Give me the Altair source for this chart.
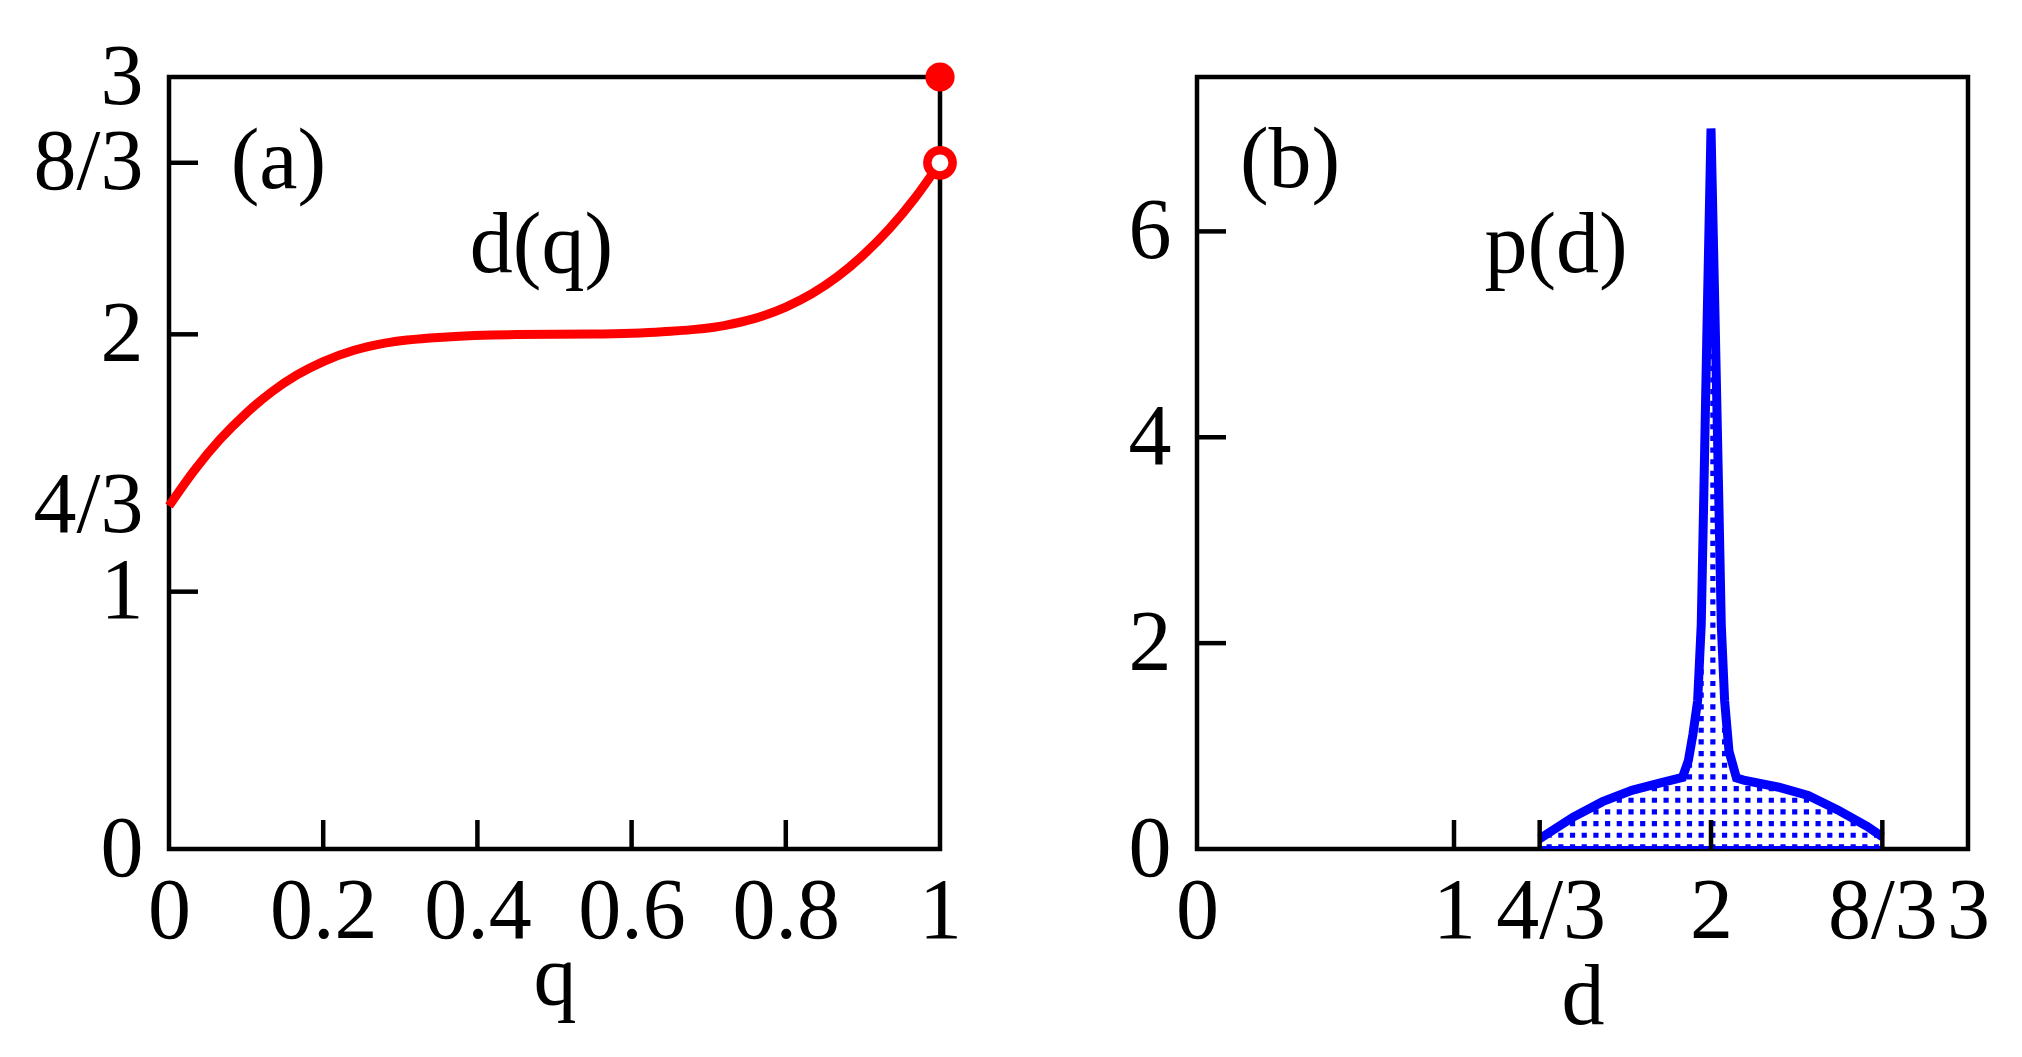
import altair as alt
import pandas as pd

FONT = "Liberation Serif"
FS = 86
RED = "#ff0000"
BLUE = "#0000ff"
W, H = 771, 772
LW = 4.5
TICK = 29
CW = 9

# ---------- panel (a): d(q) ----------
q_vals = [0, 0.033, 0.066, 0.1, 0.133, 0.166, 0.2, 0.24, 0.28, 0.36, 0.45,
          0.55, 0.64, 0.72, 0.76, 0.8, 0.834, 0.867, 0.9, 0.934, 0.967, 1.0]
dq_vals = [1.333, 1.472, 1.591, 1.693, 1.776, 1.842, 1.894, 1.938, 1.966, 1.99, 1.999,
           2.001, 2.01, 2.034, 2.062, 2.106, 2.158, 2.224, 2.307, 2.409, 2.528, 2.667]
dot_full_q, dot_full_d = [1.0], [3.0]
dot_open_q, dot_open_d = [1.0], [8 / 3]

a_xtick_vals = [0, 0.2, 0.4, 0.6, 0.8, 1]
a_xtick_labs = ["0", "0.2", "0.4", "0.6", "0.8", "1"]
a_ytick_vals = [0, 1, 4 / 3, 2, 8 / 3, 3]
a_ytick_labs = ["0", "1", "4/3", "2", "8/3", "3"]
a_xmarks = [0.2, 0.4, 0.6, 0.8]
a_ymarks = [1, 2, 8 / 3]

# ---------- panel (b): p(d) ----------
d_vals = [4 / 3, 1.464, 1.578, 1.692, 1.807, 1.889, 1.912, 1.93, 1.948, 1.962, 1.972,
          1.984, 2.0, 2.017, 2.03, 2.04, 2.053, 2.07, 2.099, 2.127, 2.264, 2.378,
          2.493, 2.607, 8 / 3]
p_vals = [0.1, 0.31, 0.46, 0.57, 0.644, 0.695, 0.86, 1.12, 1.44, 2.18, 3.44,
          5.02, 7.0, 5.02, 3.44, 2.18, 1.44, 0.95, 0.69, 0.67, 0.6, 0.52,
          0.38, 0.22, 0.12]

b_xtick_vals = [0, 1, 4 / 3, 2, 8 / 3, 3]
b_xtick_labs = ["0", "1", "4/3", "2", "8/3", "3"]
b_ytick_vals = [0, 2, 4, 6]
b_ytick_labs = ["0", "2", "4", "6"]
b_xmarks = [1, 4 / 3, 2, 8 / 3]
b_ymarks = [2, 4, 6]

# annotations
a_tag = pd.DataFrame({"x": [0.08], "y": [2.569], "t": ["(a)"]})
a_name = pd.DataFrame({"x": [0.483], "y": [2.242], "t": ["d(q)"]})
b_tag = pd.DataFrame({"x": [0.167], "y": [6.43], "t": ["(b)"]})
b_name = pd.DataFrame({"x": [1.397], "y": [5.61], "t": ["p(d)"]})


def lab_expr(vals, labs):
    parts = [f"abs(datum.value - {v!r}) < 1e-6 ? '{l}'" for v, l in zip(vals, labs)]
    return " : ".join(parts) + " : ''"


def x_axis(vals, labs, title, title_y, shift=None):
    kw = {}
    if shift is not None:
        kw["labelOffset"] = alt.condition(
            f"abs(datum.value - {shift[0]!r}) < 1e-6", alt.value(shift[1]), alt.value(0))
    return alt.Axis(values=vals, labelExpr=lab_expr(vals, labs), ticks=False, tickSize=0,
                    domain=False, grid=False, labelFont=FONT, labelFontSize=FS,
                    labelColor="black", labelPadding=88, labelBaseline="alphabetic",
                    labelFlush=False, labelOverlap=False, labelBound=False,
                    title=title, titleFont=FONT, titleFontSize=FS, titleFontWeight="normal",
                    titleColor="black", titleBaseline="alphabetic", titleY=title_y, **kw)


def y_axis(vals, labs):
    return alt.Axis(values=vals, labelExpr=lab_expr(vals, labs), ticks=False, tickSize=0,
                    domain=False, grid=False, labelFont=FONT, labelFontSize=FS,
                    labelColor="black", labelPadding=26, labelBaseline="middle",
                    labelFlush=False, labelOverlap=False, labelBound=False, title=None)


def text_layer(df, xs, ys, align):
    return alt.Chart(df).mark_text(font=FONT, fontSize=FS, baseline="alphabetic",
                                   align=align, color="black").encode(
        x=alt.X("x:Q", scale=xs), y=alt.Y("y:Q", scale=ys), text="t:N")


# ---------- build panel (a) ----------
xs_a = alt.Scale(domain=[0, 1], nice=False, zero=False)
ys_a = alt.Scale(domain=[0, 3], nice=False, zero=False)

df_a = pd.DataFrame({"q": q_vals, "d": dq_vals})
line_a = alt.Chart(df_a).mark_line(color=RED, strokeWidth=CW, strokeCap="butt",
                                   interpolate="monotone").encode(
    x=alt.X("q:Q", scale=xs_a, axis=x_axis(a_xtick_vals, a_xtick_labs, "q", 154)),
    y=alt.Y("d:Q", scale=ys_a, axis=y_axis(a_ytick_vals, a_ytick_labs)),
)
full_a = alt.Chart(pd.DataFrame({"q": dot_full_q, "d": dot_full_d})).mark_circle(
    size=855, color=RED, opacity=1).encode(
    x=alt.X("q:Q", scale=xs_a), y=alt.Y("d:Q", scale=ys_a))
open_a = alt.Chart(pd.DataFrame({"q": dot_open_q, "d": dot_open_d})).mark_point(
    shape="circle", size=640, filled=True, fill="white", stroke=RED, strokeWidth=8.5,
    opacity=1).encode(x=alt.X("q:Q", scale=xs_a), y=alt.Y("d:Q", scale=ys_a))
xt_a = alt.Chart(pd.DataFrame({"v": a_xmarks})).mark_rule(color="black", strokeWidth=LW).encode(
    x=alt.X("v:Q", scale=xs_a), y=alt.value(H), y2=alt.value(H - TICK))
yt_a = alt.Chart(pd.DataFrame({"v": a_ymarks})).mark_rule(color="black", strokeWidth=LW).encode(
    y=alt.Y("v:Q", scale=ys_a), x=alt.value(0), x2=alt.value(TICK))
panel_a = alt.layer(line_a, open_a, full_a, xt_a, yt_a,
                    text_layer(a_tag, xs_a, ys_a, "left"),
                    text_layer(a_name, xs_a, ys_a, "center")).properties(width=W, height=H)

# ---------- build panel (b) ----------
xs_b = alt.Scale(domain=[0, 3], nice=False, zero=False)
ys_b = alt.Scale(domain=[0, 7.5], nice=False, zero=False)

df_b = pd.DataFrame({"d": d_vals, "p": p_vals})
area_b = alt.Chart(df_b).mark_area(color=BLUE, opacity=1).encode(
    x=alt.X("d:Q", scale=xs_b,
            axis=x_axis(b_xtick_vals, b_xtick_labs, "d", 174, shift=(4 / 3, 11))),
    y=alt.Y("p:Q", scale=ys_b, axis=y_axis(b_ytick_vals, b_ytick_labs)),
)
# white grid carving the fill into a dotted texture
vgrid = alt.Chart(alt.sequence(1.2565, 2.75, 0.0455, as_="gx")).mark_rule(
    color="white", strokeWidth=6.5).encode(
    x=alt.X("gx:Q", scale=xs_b), y=alt.datum(0.03), y2=alt.datum(7.2))
hgrid = alt.Chart(alt.sequence(0.0767, 7.2, 0.1134, as_="gy")).mark_rule(
    color="white", strokeWidth=6.5).encode(
    y=alt.Y("gy:Q", scale=ys_b), x=alt.datum(1.26), x2=alt.datum(2.75))
line_b = alt.Chart(df_b).mark_line(color=BLUE, strokeWidth=CW, strokeCap="butt").encode(
    x=alt.X("d:Q", scale=xs_b), y=alt.Y("p:Q", scale=ys_b))
xt_b = alt.Chart(pd.DataFrame({"v": b_xmarks})).mark_rule(color="black", strokeWidth=LW).encode(
    x=alt.X("v:Q", scale=xs_b), y=alt.value(H), y2=alt.value(H - TICK))
yt_b = alt.Chart(pd.DataFrame({"v": b_ymarks})).mark_rule(color="black", strokeWidth=LW).encode(
    y=alt.Y("v:Q", scale=ys_b), x=alt.value(0), x2=alt.value(TICK))
panel_b = alt.layer(area_b, vgrid, hgrid, line_b, xt_b, yt_b,
                    text_layer(b_tag, xs_b, ys_b, "left"),
                    text_layer(b_name, xs_b, ys_b, "center")).properties(width=W, height=H)

chart = alt.hconcat(panel_a, panel_b, spacing=153).properties(
    padding={"left": 22, "top": 23, "right": 5, "bottom": 5},
    background="white",
).configure_view(stroke="black", strokeWidth=LW)

chart.save("out.html", embed_options={"renderer": "svg", "actions": False})
